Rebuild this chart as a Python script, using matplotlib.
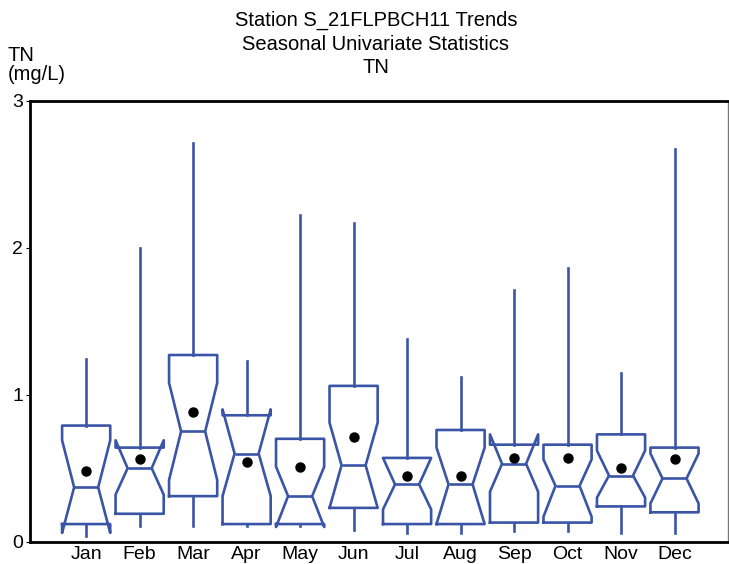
import matplotlib
matplotlib.use("Agg")
import matplotlib.pyplot as plt

plt.rcParams['font.family'] = ['Liberation Sans', 'DejaVu Sans']

# Seasonal summary statistics (mg/L)
months = ['Jan', 'Feb', 'Mar', 'Apr', 'May', 'Jun',
          'Jul', 'Aug', 'Sep', 'Oct', 'Nov', 'Dec']
whis_lo = [0.04, 0.11, 0.11, 0.11, 0.11, 0.08, 0.06, 0.06, 0.07, 0.07, 0.06, 0.06]
q1 = [0.12, 0.19, 0.31, 0.12, 0.12, 0.23, 0.12, 0.12, 0.13, 0.13, 0.24, 0.20]
notch_lo = [0.06, 0.32, 0.42, 0.31, 0.10, 0.23, 0.22, 0.12, 0.34, 0.17, 0.30, 0.26]
median = [0.37, 0.50, 0.75, 0.60, 0.31, 0.52, 0.39, 0.39, 0.53, 0.38, 0.45, 0.43]
notch_hi = [0.69, 0.69, 1.08, 0.90, 0.51, 0.81, 0.57, 0.64, 0.73, 0.56, 0.62, 0.60]
q3 = [0.79, 0.64, 1.27, 0.86, 0.70, 1.06, 0.57, 0.76, 0.66, 0.66, 0.73, 0.64]
whis_hi = [1.24, 2.00, 2.71, 1.23, 2.22, 2.17, 1.38, 1.12, 1.71, 1.86, 1.15, 2.67]
means = [0.48, 0.56, 0.88, 0.54, 0.51, 0.71, 0.45, 0.45, 0.57, 0.57, 0.50, 0.56]

stats = []
for i, m in enumerate(months):
    stats.append({'label': m, 'med': median[i], 'q1': q1[i], 'q3': q3[i],
                  'whislo': whis_lo[i], 'whishi': whis_hi[i], 'mean': means[i],
                  'cilo': notch_lo[i], 'cihi': notch_hi[i], 'fliers': []})

blue = '#3A55A6'
fig = plt.figure(figsize=(7.29, 5.64), dpi=100)
ax = fig.add_axes([30 / 729, 22.3 / 564, 698 / 729, 441 / 564])

ax.bxp(stats, positions=range(1, 13), widths=0.9, shownotches=True,
       showmeans=True, showcaps=False, showfliers=False,
       boxprops=dict(color=blue, linewidth=1.9),
       whiskerprops=dict(color=blue, linewidth=1.9),
       medianprops=dict(color=blue, linewidth=1.9),
       meanprops=dict(marker='o', markerfacecolor='black',
                      markeredgecolor='black', markersize=6.5))

ax.set_xlim(-0.05, 13.0)
ax.set_ylim(0, 3)
ax.set_yticks([0, 1, 2, 3])
ax.tick_params(axis='y', labelsize=14, length=3, pad=2)
ax.tick_params(axis='x', labelsize=14, length=0, pad=3)

for side in ['left', 'bottom', 'top']:
    ax.spines[side].set_linewidth(2.0)
    ax.spines[side].set_color('black')
ax.spines['right'].set_linewidth(1.0)
ax.spines['right'].set_color('#777777')

fig.text(376 / 729, 1 - 11 / 564,
         'Station S_21FLPBCH11 Trends\nSeasonal Univariate Statistics\nTN',
         ha='center', va='top', fontsize=14.5, linespacing=1.3)
fig.text(8 / 729, 1 - 46 / 564, 'TN\n(mg/L)', ha='left', va='top',
         fontsize=14.5, linespacing=1.0)

fig.savefig('out.png', dpi=100)
